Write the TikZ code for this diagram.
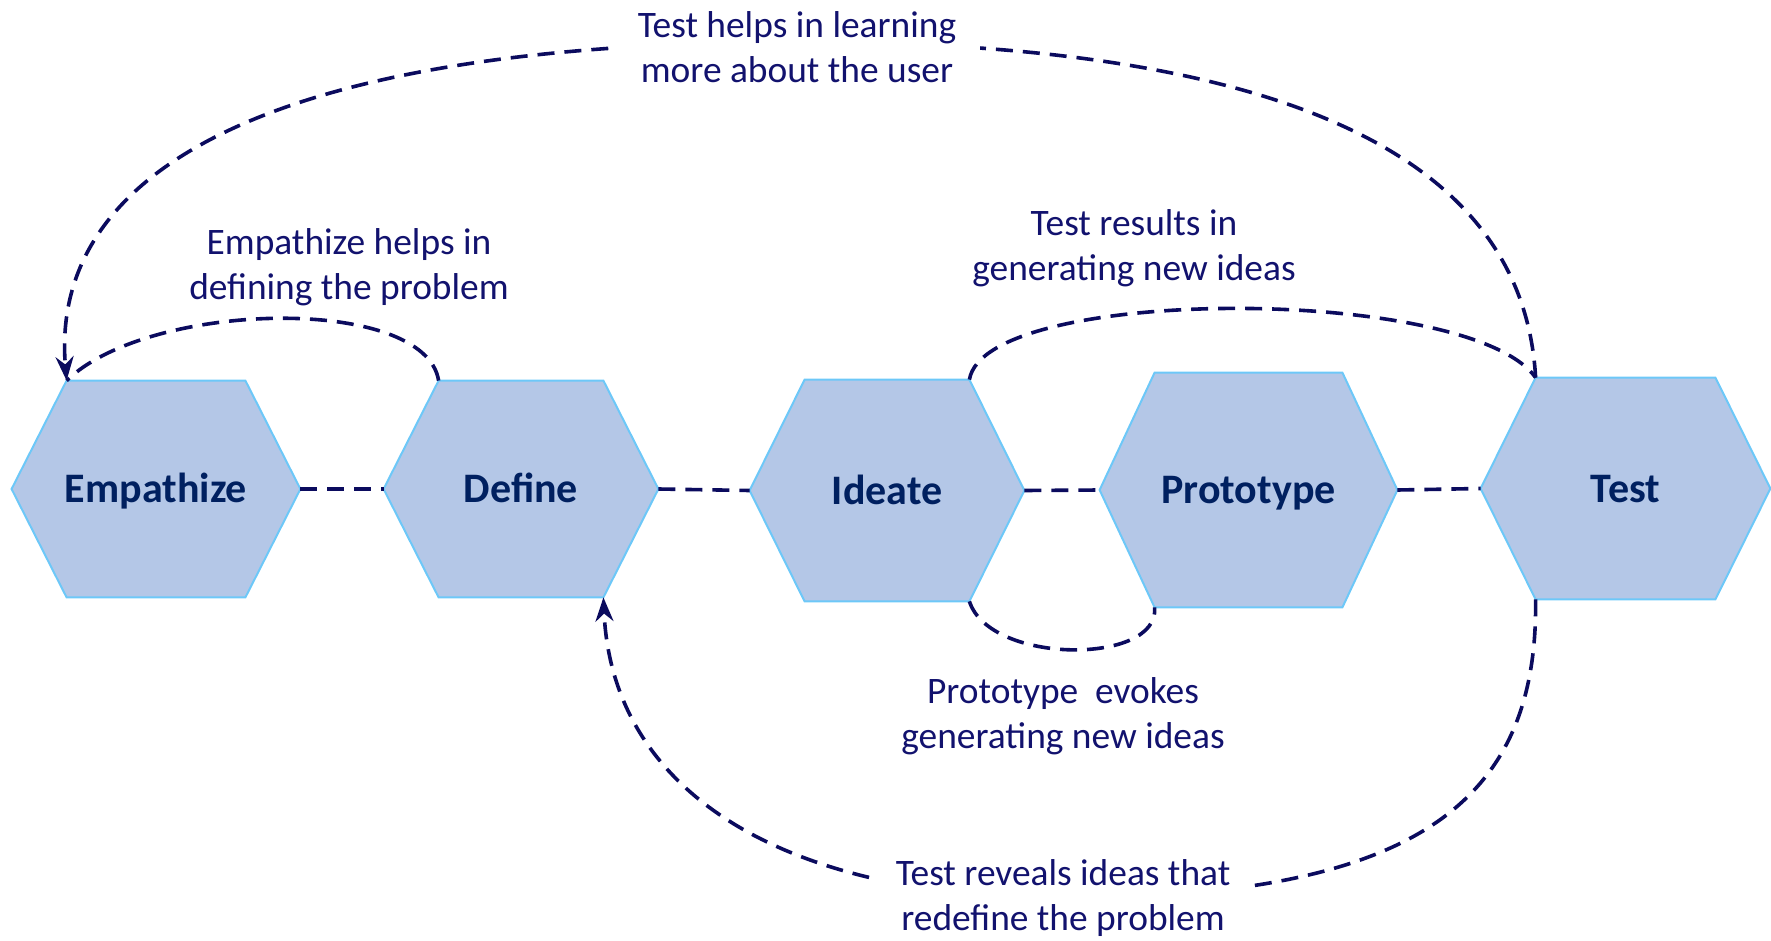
\documentclass[tikz,border=0pt]{standalone}
\usepackage{fontspec}
\setmainfont{Carlito}
\usetikzlibrary{arrows.meta,backgrounds}
\definecolor{hexfill}{HTML}{B4C7E7}
\definecolor{hexedge}{HTML}{6DC8F8}
\definecolor{navy}{HTML}{0B0B5E}
\definecolor{hextext}{HTML}{002060}
\definecolor{labeltext}{HTML}{12126E}

\begin{document}
\begin{tikzpicture}[x=0.5pt,y=-0.5pt,
  every node/.style={font=\fontsize{18.7}{22.5}\selectfont},
  phase/.style={rectangle,inner sep=0pt,text=hextext,text height=1.35em,text depth=0pt,
    font=\fontsize{21}{25}\selectfont\bfseries},
  hexline/.style={fill=hexfill,draw=hexedge,line width=1pt,line join=miter},
  link/.style={draw=navy,line width=1.8pt,dash pattern=on 8.5pt off 5pt},
  back/.style={-{Stealth[length=12pt,width=9pt,fill=navy]}},
  note/.style={align=center,text=labeltext,inner sep=0pt},
  gapnote/.style={note,fill=white,inner xsep=12pt,inner ysep=4pt}]
  \useasboundingbox (0,0) rectangle (1771,941);
  \node[phase,minimum width=144pt,minimum height=108pt] (emp) at (156,489) {Empathize};
  \node[phase,minimum width=137pt,minimum height=108pt] (def) at (521,489) {Define};
  \node[phase,minimum width=137pt,minimum height=110.5pt] (ide) at (887,490.5) {Ideate};
  \node[phase,minimum width=148.5pt,minimum height=117pt] (pro) at (1248.5,490) {Prototype};
  \node[phase,minimum width=144.5pt,minimum height=110.5pt] (tst) at (1625.5,488.5) {Test};
  \foreach \n in {emp,def,ide,pro,tst} {
    \coordinate (\n-tl) at ([xshift=27.5pt]\n.north west);
    \coordinate (\n-tr) at ([xshift=-27.5pt]\n.north east);
    \coordinate (\n-br) at ([xshift=-27.5pt]\n.south east);
    \coordinate (\n-bl) at ([xshift=27.5pt]\n.south west);
  }
  \begin{scope}[on background layer]
    \foreach \n in {emp,def,ide,pro,tst}
      \draw[hexline] (\n.west) -- (\n-tl) -- (\n-tr) -- (\n.east) -- (\n-br) -- (\n-bl) -- cycle;
  \end{scope}
  \draw[link] (emp.east) -- (def.west);
  \draw[link] (def.east) -- (ide.west);
  \draw[link] (ide.east) -- (pro.west);
  \draw[link] (pro.east) -- (tst.west);
  \draw[link] (def-tl) .. controls (425,295) and (150,300) .. (emp-tl);
  \draw[link] (ide-tr) .. controls (985,285) and (1470,285) .. (tst-tl);
  \draw[link] (ide-br) .. controls (990,665) and (1160,665) .. (pro-bl);
  \draw[link,back] (tst-tl) .. controls (1525,190) and (1350,42) .. (800,42)
    .. controls (250,42) and (50,180) .. (emp-tl);
  \draw[link,back] (tst-bl) .. controls (1538,800) and (1420,898) .. (1063,898)
    .. controls (780,898) and (612,790) .. (def-br);
  \node[gapnote] (lrn) at (797,47) {Test helps in learning\\more about the user};
  \node[note] (edp) at (349,267) {Empathize helps in\\defining the problem};
  \node[note] (trn) at (1134,248) {Test results in\\generating new ideas};
  \node[note] (pev) at (1063,716) {Prototype\ \ evokes\\generating new ideas};
  \node[gapnote] (rdf) at (1063,898) {Test reveals ideas that\\redefine the problem};
\end{tikzpicture}
\end{document}
